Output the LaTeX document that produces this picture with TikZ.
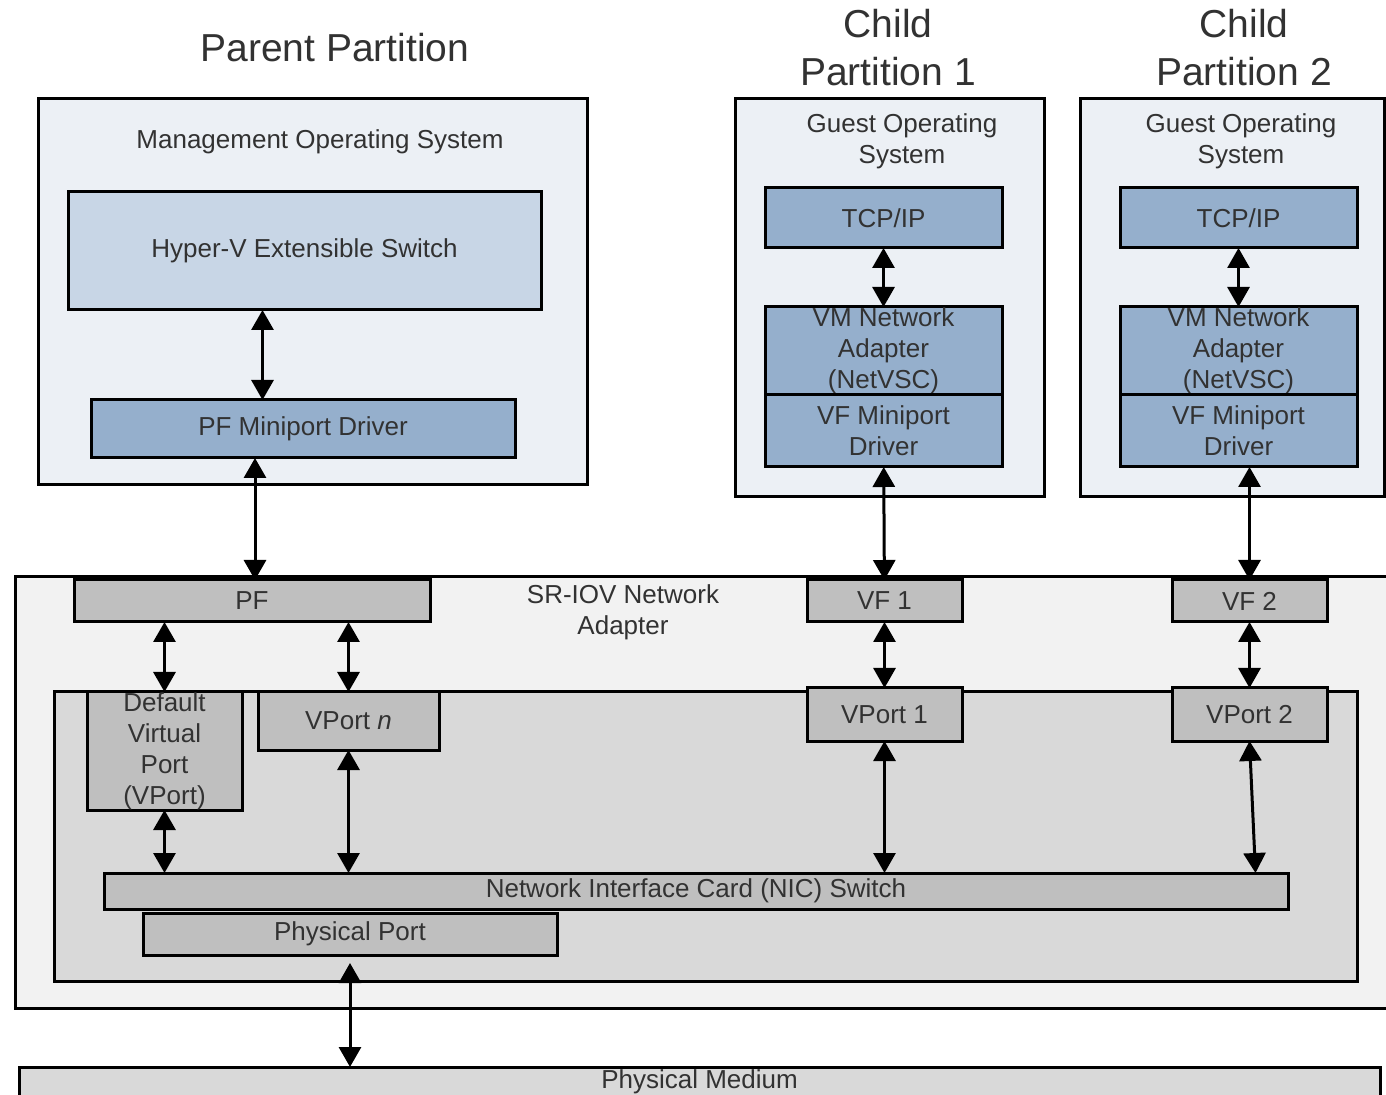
\documentclass[tikz,border=0pt]{standalone}
\usepackage{fontspec}
\setmainfont{Liberation Sans}
\usetikzlibrary{arrows.meta}
\definecolor{osfill}{RGB}{236,240,245}
\definecolor{swfill}{RGB}{200,214,230}
\definecolor{drvfill}{RGB}{149,175,204}
\definecolor{nicfill}{RGB}{242,242,242}
\definecolor{portfill}{RGB}{217,217,217}
\definecolor{hwfill}{RGB}{191,191,191}
\definecolor{txtgray}{RGB}{50,50,50}

\begin{document}
\begin{tikzpicture}[x=0.5pt,y=-0.5pt,
  every node/.style={font=\fontsize{13}{15.5}\selectfont,text=txtgray,align=center,inner sep=0pt,outer sep=0pt},
  box/.style={draw,line width=1.5pt},
  title/.style={font=\fontsize{19.5}{24}\selectfont},
  link/.style={line width=1.5pt,{Triangle[length=10pt,width=11pt]}-{Triangle[length=10pt,width=11pt]}}]
\useasboundingbox (0,0) rectangle (1386,1095);
\clip (0,0) rectangle (1386,1095);
\fill[white] (0,0) rectangle (1386,1095);

\node[title] (ptitle) at (335,48) {Parent Partition};
\node[title] (c1title) at (888,48) {Child\\Partition 1};
\node[title] (c2title) at (1244,48) {Child\\Partition 2};

\node[box,fill=osfill,minimum width=274.5pt,minimum height=193pt] (parent) at (312.5,292) {};
\node (mgmtos) at (320,142) {Management Operating System};
\node[box,fill=osfill,minimum width=154.5pt,minimum height=199pt] (child1) at (889.5,298) {};
\node (guest1) at (902,141) {Guest Operating\\System};
\node[box,fill=osfill,minimum width=152pt,minimum height=199pt] (child2) at (1232,298) {};
\node (guest2) at (1241,141) {Guest Operating\\System};

\node[box,fill=swfill,minimum width=236.5pt,minimum height=59pt] (hyperv) at (304.5,251) {Hyper-V Extensible Switch};
\node[box,fill=drvfill,minimum width=212pt,minimum height=29pt] (pfmini) at (303,429) {PF Miniport Driver};
\node[box,fill=drvfill,minimum width=118.5pt,minimum height=30pt] (tcp1) at (883.5,218) {TCP/IP};
\node[box,fill=drvfill,minimum width=118.5pt,minimum height=44pt] (vmna1) at (883.5,351) {VM Network\\Adapter\\(NetVSC)};
\node[box,fill=drvfill,minimum width=118.5pt,minimum height=36pt] (vfmini1) at (883.5,431) {VF Miniport\\Driver};
\node[box,fill=drvfill,minimum width=118.5pt,minimum height=30pt] (tcp2) at (1238.5,218) {TCP/IP};
\node[box,fill=drvfill,minimum width=118.5pt,minimum height=44pt] (vmna2) at (1238.5,351) {VM Network\\Adapter\\(NetVSC)};
\node[box,fill=drvfill,minimum width=118.5pt,minimum height=36pt] (vfmini2) at (1238.5,431) {VF Miniport\\Driver};

\node[box,fill=nicfill,minimum width=692.5pt,minimum height=215.5pt] (sriov) at (707.5,792.5) {};
\node (sriovlbl) at (623,612) {SR-IOV Network\\Adapter};
\node[box,fill=portfill,minimum width=651.5pt,minimum height=144.5pt] (nicbox) at (705.5,836.5) {};
\node[box,fill=hwfill,minimum width=178pt,minimum height=21pt] (pf) at (252,601) {PF};
\node[box,fill=hwfill,minimum width=77.5pt,minimum height=21pt] (vf1) at (884.5,601) {VF 1};
\node[box,fill=hwfill,minimum width=77.5pt,minimum height=21pt] (vf2) at (1249.5,601) {VF 2};
\node[box,fill=hwfill,minimum width=77.5pt,minimum height=59pt] (dvport) at (164.5,751) {Default\\Virtual\\Port\\(VPort)};
\node[box,fill=hwfill,minimum width=90.5pt,minimum height=29pt] (vportn) at (348.5,721) {VPort \textit{n}};
\node[box,fill=hwfill,minimum width=77.5pt,minimum height=26.5pt] (vport1) at (884.5,714.5) {VPort 1};
\node[box,fill=hwfill,minimum width=77.5pt,minimum height=26.5pt] (vport2) at (1249.5,714.5) {VPort 2};
\node[box,fill=hwfill,minimum width=592pt,minimum height=18pt] (nicsw) at (696,891) {Network Interface Card (NIC) Switch};
\node[box,fill=hwfill,minimum width=207pt,minimum height=21pt] (pport) at (350,934) {Physical Port};
\node[box,fill=portfill,minimum width=680.5pt,minimum height=15pt] (medium) at (699.5,1082) {Physical Medium};

\draw[link] ([xshift=-21pt]hyperv.south) -- ([xshift=-21pt]hyperv.south |- pfmini.north);
\draw[link] ([xshift=1.5pt]pfmini.south -| pf.north) -- ([xshift=1.5pt]pf.north);
\draw[link] (tcp1) -- (vmna1);
\draw[link] (tcp2) -- (vmna2);
\draw[link] (vfmini1) -- (vf1);
\draw[link] (vfmini2.south -| vf2.north) -- (vf2.north);
\draw[link] (pf.south -| dvport.north) -- (dvport.north);
\draw[link] (pf.south -| vportn.north) -- (vportn.north);
\draw[link] (vf1) -- (vport1);
\draw[link] (vf2) -- (vport2);
\draw[link] (dvport.south) -- (dvport.south |- nicsw.north);
\draw[link] (vportn.south) -- (vportn.south |- nicsw.north);
\draw[link] (vport1.south) -- (vport1.south |- nicsw.north);
\draw[link] (vport2.south) -- ([xshift=3pt]vport2.south |- nicsw.north);
\draw[link] ([yshift=-4pt]pport.south) -- (pport.south |- medium.north);
\end{tikzpicture}
\end{document}
